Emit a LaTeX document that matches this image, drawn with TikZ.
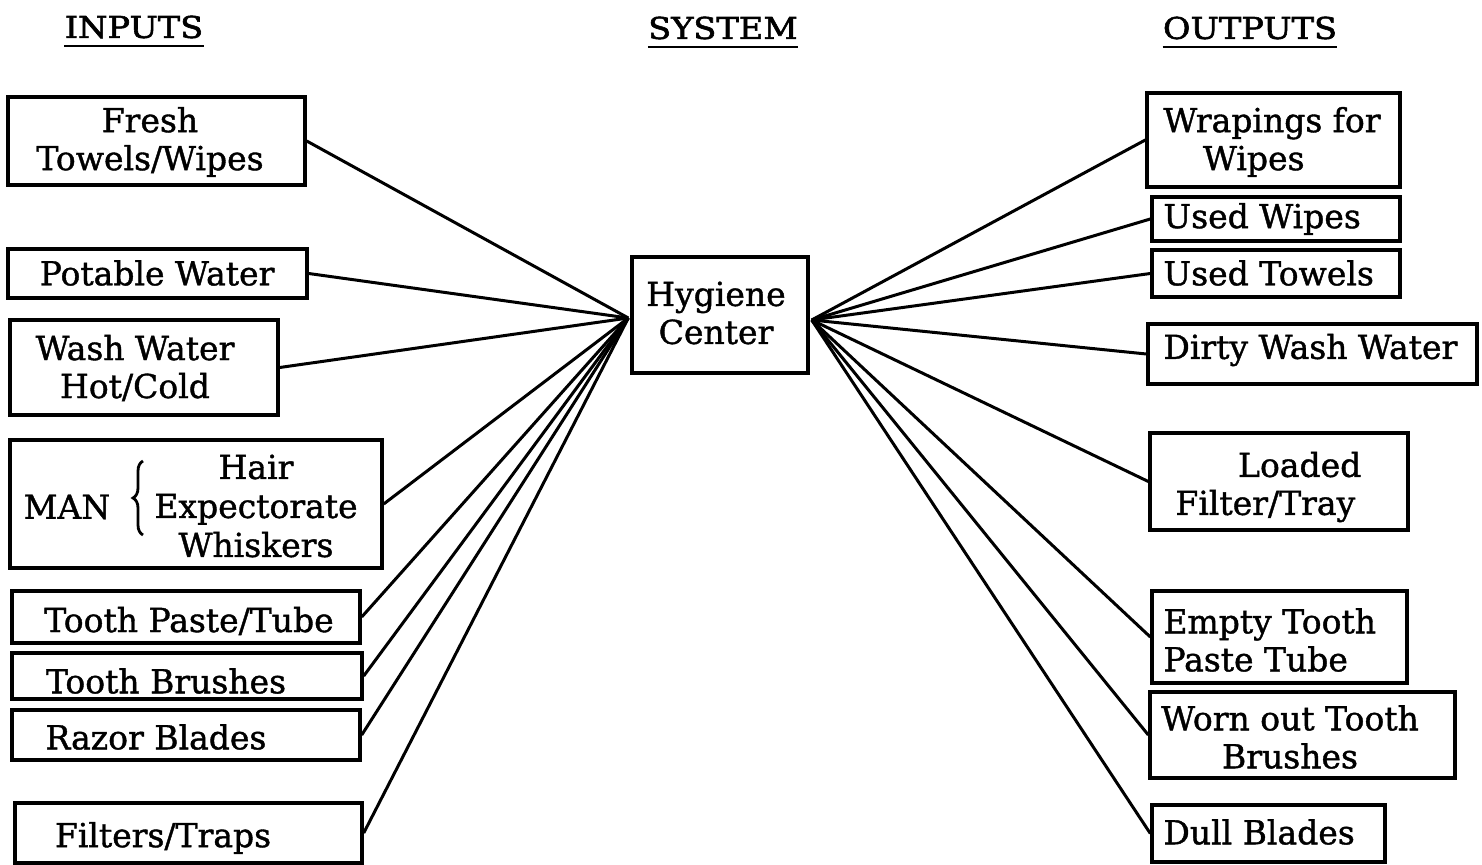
\documentclass[tikz,border=0pt]{standalone}
\usepackage{fontspec}
\setmainfont{DejaVu Serif}[FakeBold=1.2]
\newfontfamily\bodyfont[FakeBold=1.2]{DejaVu Serif}
\newfontfamily\headfont[FakeStretch=1.12,FakeBold=2]{DejaVu Serif}
\usetikzlibrary{decorations.pathreplacing,calc}
\begin{document}
\begin{tikzpicture}[x=0.5pt,y=-0.5pt,
  box/.style 2 args={draw, line width=1.7pt, inner sep=0pt, minimum width=#1*0.5pt, minimum height=#2*0.5pt},
  txt/.style={font=\bodyfont\fontsize{16.5}{19}\selectfont, inner sep=0pt, align=center},
  txtl/.style={txt, align=left, anchor=west},
  head/.style={font=\headfont\fontsize{15}{18}\selectfont, inner sep=0pt},
  link/.style={line width=1.5pt},
  uline/.style={line width=1.2pt}]
\fill[white] (0,0) rectangle (1482,865);
\useasboundingbox (0,0) rectangle (1482,865);

% headings
\node[head] (inputs) at (134,27) {INPUTS};
\node[head] (system) at (723,28) {SYSTEM};
\node[head] (outputs) at (1250,28) {OUTPUTS};
\foreach \h in {inputs,system,outputs}
  \draw[uline] ([yshift=-4pt]\h.base west) -- ([yshift=-4pt]\h.base east);

% input boxes
\node[box={297}{88}]  (fresh)   at (156.5,141) {};
\node[box={299}{49}]  (potable) at (157.5,273.5) {};
\node[box={268}{95}]  (wash)    at (144,367.5) {};
\node[box={372}{128}] (man)     at (196,504) {};
\node[box={348}{52}]  (paste)   at (186,617) {};
\node[box={350}{46}]  (brushes) at (187,676) {};
\node[box={348}{50}]  (razor)   at (186,735) {};
\node[box={347}{60}]  (filters) at (188.5,833) {};

% system box
\node[box={176}{116}] (hyg) at (720,315) {};

% output boxes
\node[box={253}{94}] (wrap)    at (1273.5,140) {};
\node[box={248}{44}] (uwipes)  at (1276,219) {};
\node[box={248}{47}] (utowels) at (1276,273.5) {};
\node[box={329}{60}] (dirty)   at (1312.5,354) {};
\node[box={258}{97}] (loaded)  at (1279,481.5) {};
\node[box={255}{92}] (empty)   at (1279.5,637) {};
\node[box={305}{86}] (worn)    at (1302.5,735) {};
\node[box={233}{57}] (dull)    at (1268.5,833.5) {};

% texts
\node[txt] (t-fresh)   at (150,142) {Fresh\\Towels/Wipes};
\node[txt] (t-potable) at (157,273) {Potable Water};
\node[txt] (t-wash)    at (135,368) {Wash Water\\Hot/Cold};
\node[txt] (t-man)     at (67,507) {MAN};
\draw[line width=1.4pt, decorate, decoration={brace, amplitude=5pt}] (143,535) -- (143,461);
\node[txt, font=\bodyfont\fontsize{16.5}{19.5}\selectfont] (t-manlist) at (256,506) {Hair\\Expectorate\\Whiskers};
\node[txt] (t-paste)   at (189,621) {Tooth Paste/Tube};
\node[txt] (t-brushes) at (166,681) {Tooth Brushes};
\node[txt] (t-razor)   at (156,737) {Razor Blades};
\node[txt] (t-filters) at (163,838) {Filters/Traps};
\node[txt] (t-hyg)     at (716,313) {Hygiene\\Center};
\node[txtl] (t-wrap)    at (1163,142) {Wrapings for\\\hspace*{1.2em}Wipes};
\node[txtl] (t-uwipes)  at (1163,219) {Used Wipes};
\node[txtl] (t-utowels) at (1163,273) {Used Towels};
\node[txtl] (t-dirty)   at (1163,350) {Dirty Wash Water};
\node[txtl] (t-loaded)  at (1175,487) {\hspace*{1.9em}Loaded\\Filter/Tray};
\node[txtl] (t-empty)   at (1163,640) {Empty Tooth\\Paste Tube};
\node[txt]  (t-worn)    at (1290,737) {Worn out Tooth\\Brushes};
\node[txtl] (t-dull)    at (1163,832) {Dull Blades};

% connectors
\coordinate (hl) at ($(hyg.west)+(-2,3)$);
\coordinate (hr) at ($(hyg.east)+(2,5)$);
\foreach \n in {fresh,potable,wash,man,paste,brushes,razor,filters}
  \draw[link] (\n.east) -- (hl);
\foreach \n in {wrap,uwipes,utowels,dirty,loaded,empty,worn,dull}
  \draw[link] (hr) -- (\n.west);
\end{tikzpicture}
\end{document}
